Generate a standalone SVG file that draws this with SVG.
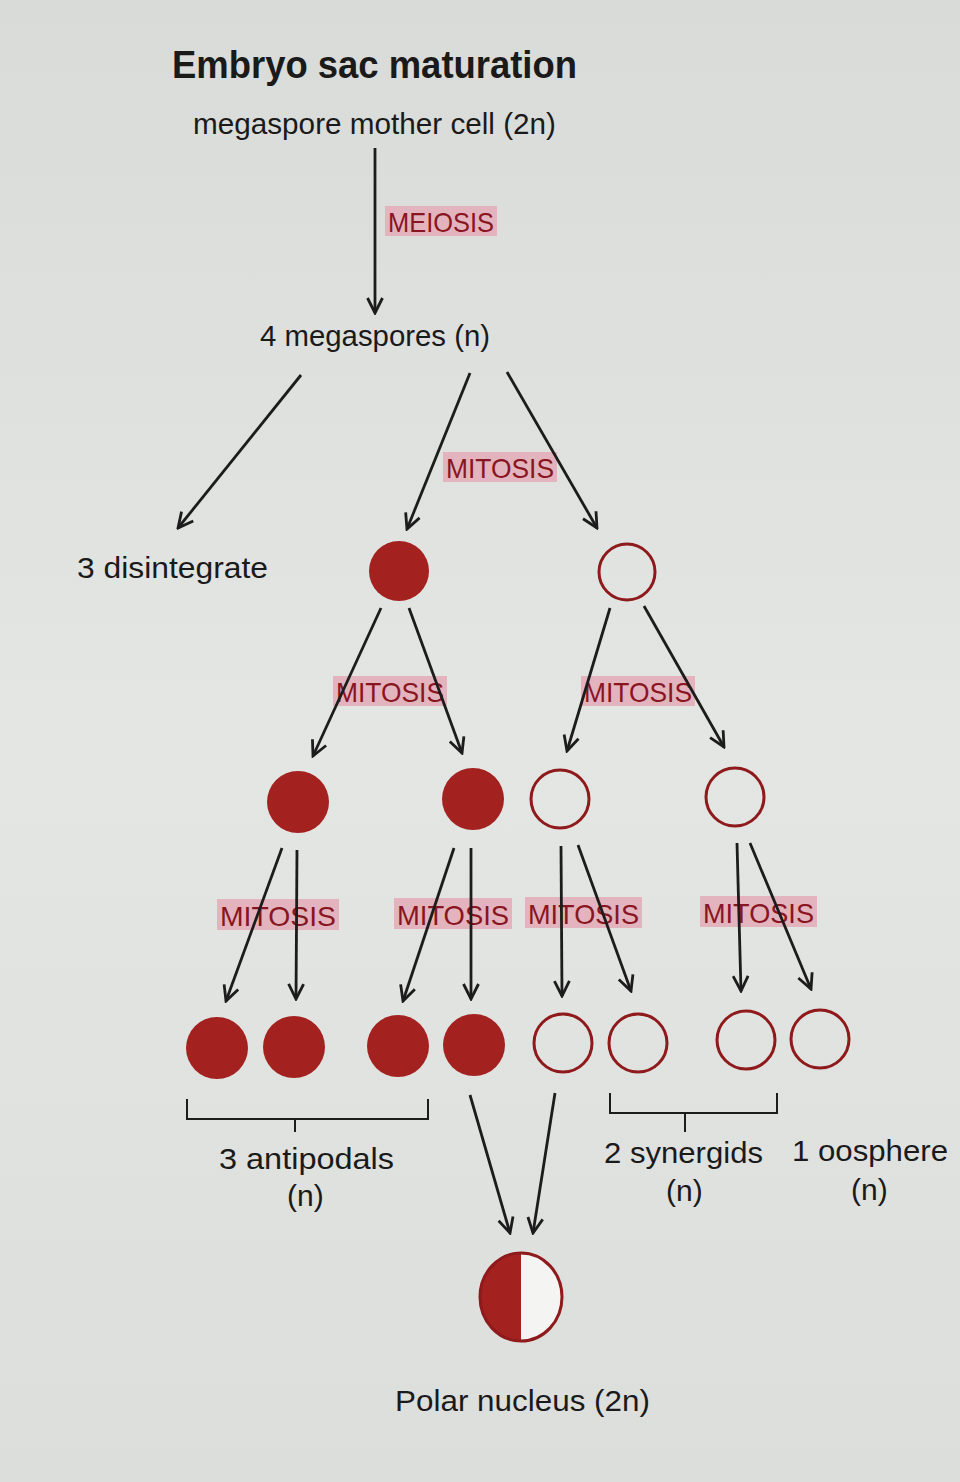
<svg xmlns="http://www.w3.org/2000/svg" width="960" height="1482" viewBox="0 0 960 1482">
<defs>
<linearGradient id="bg" x1="0" y1="0" x2="0" y2="1">
<stop offset="0" stop-color="#d9dbd8"/>
<stop offset="0.5" stop-color="#e4e6e3"/>
<stop offset="1" stop-color="#dcdedb"/>
</linearGradient>
<marker id="ah" viewBox="0 0 18 18" refX="16" refY="9" markerWidth="18" markerHeight="18" markerUnits="userSpaceOnUse" orient="auto">
<path d="M1,1.5 L16,9 L1,16.5" fill="none" stroke="#1c1c1c" stroke-width="2.8" stroke-linejoin="miter"/>
</marker>
<style>
.t{font-family:"Liberation Sans",Arial,sans-serif;font-size:30px;fill:#1a1a1a}
.title{font-family:"Liberation Sans",Arial,sans-serif;font-size:38px;font-weight:bold;fill:#1a1a1a}
.lbl{font-family:"Liberation Sans",Arial,sans-serif;font-size:28px;fill:#8a1522}
.hl{fill:#e3b4bd}
.full{fill:#a3211f}
.open{fill:none;stroke:#8e1a1c;stroke-width:3}
.conn line{stroke:#1c1c1c;stroke-width:2.8;marker-end:url(#ah)}
.br{fill:none;stroke:#1c1c1c;stroke-width:2}
</style>
</defs>
<rect x="0" y="0" width="960" height="1482" fill="url(#bg)"/>

<g id="title"><text class="title" x="172" y="78" textLength="405" lengthAdjust="spacingAndGlyphs">Embryo sac maturation</text></g>

<g id="mother"><text class="t" x="193" y="134" textLength="363" lengthAdjust="spacingAndGlyphs">megaspore mother cell (2n)</text></g>

<g id="lbl-meiosis"><rect class="hl" x="385" y="206" width="112" height="30"/><text class="lbl" x="388" y="232" textLength="106" lengthAdjust="spacingAndGlyphs">MEIOSIS</text></g>

<g id="megaspores"><text class="t" x="260" y="346" textLength="230" lengthAdjust="spacingAndGlyphs">4 megaspores (n)</text></g>

<g id="disintegrate"><text class="t" x="77" y="578" textLength="191" lengthAdjust="spacingAndGlyphs">3 disintegrate</text></g>

<g id="lbl-mitosis1"><rect class="hl" x="443" y="452" width="114" height="30"/><text class="lbl" x="446" y="478" textLength="108" lengthAdjust="spacingAndGlyphs">MITOSIS</text></g>

<g id="n2a"><circle class="full" cx="399" cy="571" r="30"/></g>
<g id="n2b"><circle class="open" cx="627" cy="572" r="28"/></g>

<g id="lbl-mitosis2a"><rect class="hl" x="333" y="676" width="114" height="30"/><text class="lbl" x="336" y="702" textLength="108" lengthAdjust="spacingAndGlyphs">MITOSIS</text></g>
<g id="lbl-mitosis2b"><rect class="hl" x="581" y="676" width="114" height="30"/><text class="lbl" x="584" y="702" textLength="108" lengthAdjust="spacingAndGlyphs">MITOSIS</text></g>

<g id="n3a"><circle class="full" cx="298" cy="802" r="31"/></g>
<g id="n3b"><circle class="full" cx="473" cy="799" r="31"/></g>
<g id="n3c"><circle class="open" cx="560" cy="799" r="29"/></g>
<g id="n3d"><circle class="open" cx="735" cy="797" r="29"/></g>

<g id="lbl-mitosis3a"><rect class="hl" x="217" y="899" width="122" height="31"/><text class="lbl" x="220" y="926" textLength="116" lengthAdjust="spacingAndGlyphs">MITOSIS</text></g>
<g id="lbl-mitosis3b"><rect class="hl" x="394" y="898" width="118" height="31"/><text class="lbl" x="397" y="925" textLength="112" lengthAdjust="spacingAndGlyphs">MITOSIS</text></g>
<g id="lbl-mitosis3c"><rect class="hl" x="525" y="897" width="117" height="31"/><text class="lbl" x="528" y="924" textLength="111" lengthAdjust="spacingAndGlyphs">MITOSIS</text></g>
<g id="lbl-mitosis3d"><rect class="hl" x="700" y="896" width="117" height="31"/><text class="lbl" x="703" y="923" textLength="111" lengthAdjust="spacingAndGlyphs">MITOSIS</text></g>

<g id="n4a"><circle class="full" cx="217" cy="1048" r="31"/></g>
<g id="n4b"><circle class="full" cx="294" cy="1047" r="31"/></g>
<g id="n4c"><circle class="full" cx="398" cy="1046" r="31"/></g>
<g id="n4d"><circle class="full" cx="474" cy="1045" r="31"/></g>
<g id="n4e"><circle class="open" cx="563" cy="1043" r="29"/></g>
<g id="n4f"><circle class="open" cx="638" cy="1043" r="29"/></g>
<g id="n4g"><circle class="open" cx="746" cy="1040" r="29"/></g>
<g id="n4h"><circle class="open" cx="820" cy="1039" r="29"/></g>

<g id="antipodals">
<path class="br" d="M187,1099 V1119 H428 V1099 M295,1119 V1132"/>
<text class="t" x="219" y="1169" textLength="175" lengthAdjust="spacingAndGlyphs">3 antipodals</text>
<text class="t" x="287" y="1206">(n)</text>
</g>
<g id="synergids">
<path class="br" d="M610,1093 V1113 H777 V1093 M685,1113 V1132"/>
<text class="t" x="604" y="1163" textLength="159" lengthAdjust="spacingAndGlyphs">2 synergids</text>
<text class="t" x="666" y="1201">(n)</text>
</g>
<g id="oosphere">
<text class="t" x="792" y="1161" textLength="156" lengthAdjust="spacingAndGlyphs">1 oosphere</text>
<text class="t" x="851" y="1200">(n)</text>
</g>

<g id="polar">
<path class="full" d="M521,1253 A41,44 0 0 0 521,1341 Z"/>
<path d="M521,1253 A41,44 0 0 1 521,1341 Z" fill="#f4f4f2"/>
<ellipse cx="521" cy="1297" rx="41" ry="44" fill="none" stroke="#8e1a1c" stroke-width="3"/>
<text class="t" x="395" y="1411" textLength="255" lengthAdjust="spacingAndGlyphs">Polar nucleus (2n)</text>
</g>

<g id="connectors" class="conn">
<line x1="375" y1="148" x2="375" y2="313"/>
<line x1="301" y1="375" x2="178" y2="528"/>
<line x1="470" y1="373" x2="407" y2="529"/>
<line x1="507" y1="372" x2="597" y2="528"/>
<line x1="381" y1="608" x2="313" y2="756"/>
<line x1="409" y1="608" x2="462" y2="753"/>
<line x1="610" y1="608" x2="567" y2="751"/>
<line x1="644" y1="606" x2="724" y2="747"/>
<line x1="282" y1="848" x2="226" y2="1001"/>
<line x1="297" y1="850" x2="296" y2="999"/>
<line x1="454" y1="848" x2="403" y2="1001"/>
<line x1="471" y1="848" x2="471" y2="999"/>
<line x1="561" y1="846" x2="562" y2="996"/>
<line x1="578" y1="845" x2="631" y2="991"/>
<line x1="737" y1="843" x2="741" y2="991"/>
<line x1="750" y1="843" x2="811" y2="989"/>
<line x1="470" y1="1095" x2="510" y2="1233"/>
<line x1="555" y1="1093" x2="533" y2="1233"/>
</g>
</svg>
